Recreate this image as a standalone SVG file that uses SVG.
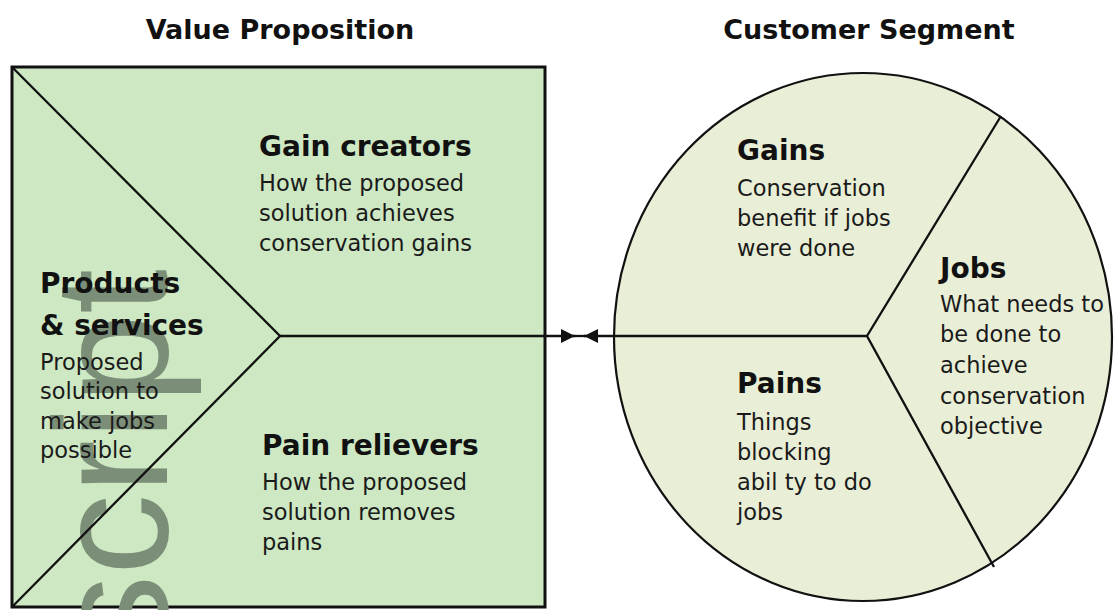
<svg xmlns="http://www.w3.org/2000/svg" width="1116" height="610" viewBox="0 0 1116 610">
<style>
.title{font-family:"DejaVu Sans","Liberation Sans",sans-serif;font-weight:bold;font-size:27px;fill:#111;text-anchor:middle}
.head{font-family:"DejaVu Sans","Liberation Sans",sans-serif;font-weight:bold;font-size:28px;fill:#111}
.body{font-family:"DejaVu Sans","Liberation Sans",sans-serif;font-size:22.5px;fill:#1a1a1a}
.ln{stroke:#111;stroke-width:2.3;fill:none}
.wm{font-family:"Liberation Sans",Arial,sans-serif;font-size:162px;fill:#7b8f78}
</style>
<defs>
<marker id="arr" viewBox="0 0 14 14" refX="14" refY="7" markerWidth="14" markerHeight="14" markerUnits="userSpaceOnUse" orient="auto">
<path d="M0,0 L14,7 L0,14 Z" fill="#111"/>
</marker>
</defs>
<rect width="1116" height="610" fill="#ffffff"/>
<text x="280" y="39" class="title">Value Proposition</text>
<text x="869" y="39" class="title">Customer Segment</text>

<g id="value-proposition">
<rect x="12" y="67" width="533" height="540" fill="#cde8c2" stroke="#111" stroke-width="3"/>
<text class="wm" transform="translate(167,656) rotate(-90)">script</text>
<path class="ln" d="M12,67 L280,336 L12,607"/>
</g>

<g id="customer-segment">
<ellipse cx="863" cy="337" rx="249" ry="264" fill="#e9efd6" stroke="#111" stroke-width="2.2"/>
<path class="ln" d="M1001,116 L867,336 L994,567"/>
</g>

<g id="connectors">
<path class="ln" d="M280,336 L575,336" marker-end="url(#arr)"/>
<path class="ln" d="M867,336 L584,336" marker-end="url(#arr)"/>
<path class="ln" d="M573,336 L586,336"/>
</g>

<g id="products-services">
<text class="head" x="40" y="293">Products</text>
<text class="head" x="40" y="335">&amp; services</text>
<text class="body" x="40" y="370">Proposed</text>
<text class="body" x="40" y="399">solution to</text>
<text class="body" x="40" y="429">make jobs</text>
<text class="body" x="40" y="458">possible</text>
</g>

<g id="gain-creators">
<text class="head" x="259" y="156">Gain creators</text>
<text class="body" x="259" y="191">How the proposed</text>
<text class="body" x="259" y="221">solution achieves</text>
<text class="body" x="259" y="251">conservation gains</text>
</g>

<g id="pain-relievers">
<text class="head" x="262" y="455">Pain relievers</text>
<text class="body" x="262" y="490">How the proposed</text>
<text class="body" x="262" y="520">solution removes</text>
<text class="body" x="262" y="550">pains</text>
</g>

<g id="gains">
<text class="head" x="737" y="160">Gains</text>
<text class="body" x="737" y="196">Conservation</text>
<text class="body" x="737" y="226">benefit if jobs</text>
<text class="body" x="737" y="256">were done</text>
</g>

<g id="pains">
<text class="head" x="737" y="393">Pains</text>
<text class="body" x="737" y="430">Things</text>
<text class="body" x="737" y="460">blocking</text>
<text class="body" x="737" y="490">abil ty to do</text>
<text class="body" x="737" y="520">jobs</text>
</g>

<g id="jobs">
<text class="head" x="940" y="278">Jobs</text>
<text class="body" x="940" y="312">What needs to</text>
<text class="body" x="940" y="342">be done to</text>
<text class="body" x="940" y="373">achieve</text>
<text class="body" x="940" y="404">conservation</text>
<text class="body" x="940" y="434">objective</text>
</g>
</svg>
